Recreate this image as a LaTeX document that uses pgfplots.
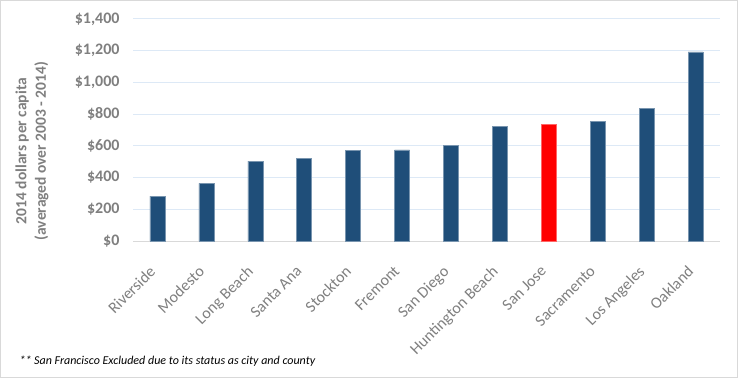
\documentclass[border=0pt]{standalone}
\usepackage{pgfplots}
\pgfplotsset{compat=1.18}
\usepackage{fontspec}
\setmainfont{Carlito}
\definecolor{barblue}{RGB}{31,78,121}
\definecolor{txtgray}{RGB}{127,127,127}
\definecolor{gridblue}{RGB}{221,233,246}
\definecolor{axisgray}{RGB}{217,217,217}
\begin{document}
\begin{tikzpicture}
\draw[color=axisgray, line width=1pt] (0.5pt,0.5pt) rectangle (737.5pt,377.5pt);
\begin{axis}[
  at={(133pt,137pt)}, anchor=south west,
  scale only axis, width=587pt, height=222pt,
  xmin=-0.5, xmax=11.5, ymin=0, ymax=1400,
  axis line style={draw=none},
  ytick={0,200,...,1400},
  yticklabels={{\$0},{\$200},{\$400},{\$600},{\$800},{\$1,000},{\$1,200},{\$1,400}},
  yticklabel style={font=\fontsize{16}{18}\selectfont\bfseries, text=txtgray, anchor=east, xshift=-10pt},
  xtick={0,...,11},
  xticklabels={Riverside,Modesto,Long Beach,Santa Ana,Stockton,Fremont,San Diego,Huntington Beach,San Jose,Sacramento,Los Angeles,Oakland},
  xticklabel style={font=\fontsize{16}{18}\selectfont, text=txtgray, xshift=-9pt, yshift=-19pt, rotate=45, anchor=north east},
  major tick length=0pt,
  ymajorgrids, grid style={gridblue, line width=1pt},
  extra y ticks={0}, extra y tick labels={}, extra y tick style={grid style={axisgray, line width=1pt}},
  ylabel={2014 dollars per capita\\(averaged over 2003 - 2014)},
  ylabel style={font=\fontsize{15.5}{19.5}\selectfont\bfseries, text=txtgray, align=center,
    at={(axis description cs:-0.172,0.405)}, rotate=0, anchor=center},
  clip=false,
]
\addplot[ybar, bar width=15pt, bar shift=0pt, fill=barblue, draw=barblue!60!white, line width=0.5pt]
  coordinates {(0,283) (1,363) (2,504) (3,520) (4,571) (5,575) (6,605) (7,722) (9,753) (10,835) (11,1192)};
\addplot[ybar, bar width=15pt, bar shift=0pt, fill=red, draw=red!60!white, line width=0.5pt]
  coordinates {(8,739)};
\end{axis}
\node[anchor=base west, font=\fontsize{12}{14}\selectfont\itshape] at (16pt,14pt) {** San Francisco Excluded due to its status as city and county};
\end{tikzpicture}
\end{document}
